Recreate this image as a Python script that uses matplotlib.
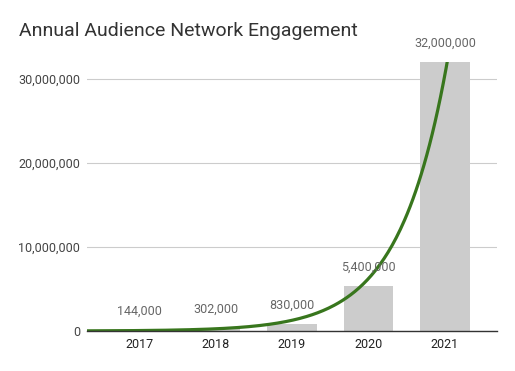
import numpy as np
import matplotlib
matplotlib.use("Agg")
import matplotlib.pyplot as plt
from matplotlib.ticker import FuncFormatter

plt.rcParams['font.family'] = ['Roboto', 'DejaVu Sans']

anos = ['2017', '2018', '2019', '2020', '2021']
engajamento = [144000, 302000, 830000, 5400000, 32000000]
rotulos = ['144,000', '302,000', '830,000', '5,400,000', '32,000,000']
marcas_y = [0, 10000000, 20000000, 30000000]

x = np.arange(len(anos))
y = np.array(engajamento, dtype=float)

fig = plt.figure(figsize=(5.15, 3.71), dpi=100)
ax = fig.add_axes([87/515, 40/371, 410/515, 269/371])

ax.bar(x, y, width=0.65, color='#cccccc', zorder=2)

# linha de tendencia exponencial (ajuste no log, ponderado)
coef = np.polyfit(x, np.log(y), 1, w=y**0.35)
xt = np.linspace(-0.7, 4.7, 300)
ax.plot(xt, np.exp(np.polyval(coef, xt)), color='#38761d', lw=2.3, zorder=3)

for xi, yi, r in zip(x, y, rotulos):
    ax.annotate(r, (xi, yi), xytext=(0, 13.5), textcoords='offset points',
                ha='center', va='center', fontsize=9, color='#666666',
                annotation_clip=False)

ax.set_xlim(-0.68, 4.68)
ax.set_ylim(0, 32000000)
ax.set_xticks(x)
ax.set_xticklabels(anos, fontsize=9, color='#222222')
ax.set_yticks(marcas_y)
ax.yaxis.set_major_formatter(FuncFormatter(lambda v, p: f'{int(v):,}'))
ax.tick_params(axis='y', length=0, pad=5, labelsize=9, labelcolor='#444444')
ax.tick_params(axis='x', length=0, pad=5)
ax.grid(axis='y', color='#cccccc', lw=0.8, zorder=0)
for s in ['top', 'right', 'left']:
    ax.spines[s].set_visible(False)
ax.spines['bottom'].set_color('#333333')
ax.spines['bottom'].set_linewidth(1)
ax.spines['bottom'].set_zorder(4)

fig.text(19/515, 1 - 31/371, 'Annual Audience Network Engagement', fontsize=14,
         color='#333333', ha='left', va='center')

plt.savefig('out.png', dpi=100)
